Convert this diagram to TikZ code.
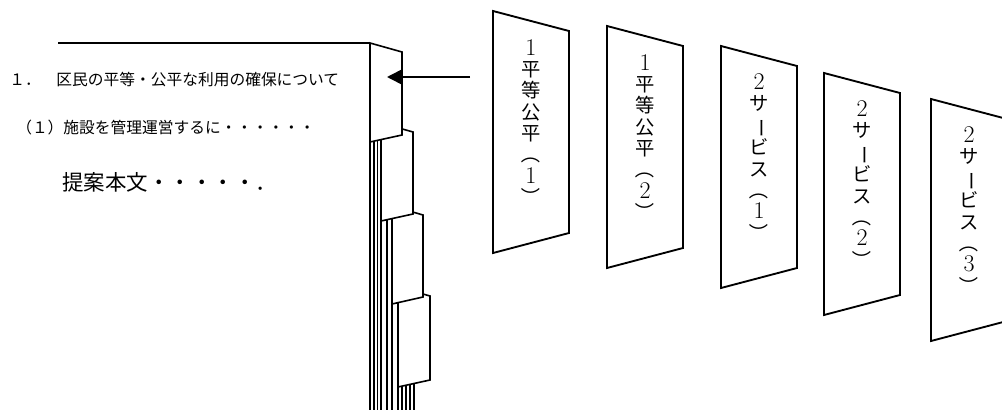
\documentclass[tikz,border=0pt]{standalone}
\usepackage{fontspec}
\usepackage{graphicx}
\newfontfamily\jp{Noto Sans CJK JP}
\usetikzlibrary{arrows.meta}

% vertical writing helpers
\newcommand\tatesuji[1]{{\rmfamily\fontsize{18}{16}\selectfont #1}}
\newcommand\tatebou{\rotatebox[origin=c]{-90}{ー}}
\newcommand\tatekakko[1]{\rotatebox[origin=c]{-90}{（}\\\tatesuji{#1}\\\rotatebox[origin=c]{-90}{）}}

\begin{document}
\begin{tikzpicture}[x=0.75pt, y=-0.75pt,
    sheet/.style={line width=1.2pt},
    tabsheet/.style={line width=1.2pt, fill=white, line join=miter},
    card/.style={line width=1.4pt, line join=miter},
    cardtext/.style={align=center, inner sep=0pt, font=\jp\fontsize{14.5}{16}\selectfont},
    bodytext/.style={anchor=west, inner sep=0pt, font=\jp\fontsize{11.8}{14}\selectfont}]
  \useasboundingbox (0,0) rectangle (1002,410);
  \clip (0,0) rectangle (1002,410);

  % Page text
  \node[bodytext] (midashi) at (9,80) {１．　区民の平等・公平な利用の確保について};
  \node[bodytext] (komidashi) at (16,128) {（１）施設を管理運営するに・・・・・・};
  \node[bodytext, font=\jp\fontsize{16.1}{18}\selectfont] (honbun) at (62,182) {提案本文・・・・・．};

  % Page top edge
  \draw[sheet, line width=1.4pt] (58,43) -- (370,43);

  % Page edges in the stack
  \foreach \x/\y in {370/43, 374/100, 377.5/100, 381/130, 387/180, 392/210, 398/290, 402/350, 406/350, 410/350, 414/350}
    \draw[sheet] (\x,\y) -- (\x,412);

  % Index tabs, back to front
  \draw[tabsheet] (398,287) -- (430,296) -- (430,380) -- (398,387) -- cycle;
  \draw[tabsheet] (392,206) -- (423,215) -- (423,297) -- (392,304) -- cycle;
  \draw[tabsheet] (381,123) -- (413,132) -- (413,214) -- (381,221) -- cycle;
  \draw[tabsheet] (370,43) -- (402,52) -- (402,135) -- (370,142) -- cycle;

  % Arrow to the first tab
  \coordinate (pfrom) at (470,77);
  \coordinate (pto) at (387,77);
  \draw[line width=1.2pt, -{Triangle[length=11pt, width=11pt]}] (pfrom) -- (pto);

  % Separator cards
  \foreach \x/\y/\t in {493/11/{\tatesuji{1}\\平\\等\\公\\平\\\tatekakko{1}},
                         607/26/{\tatesuji{1}\\平\\等\\公\\平\\\tatekakko{2}},
                         721/46/{\tatesuji{2}\\サ\\\tatebou\\ビ\\ス\\\tatekakko{1}},
                         824/73/{\tatesuji{2}\\サ\\\tatebou\\ビ\\ス\\\tatekakko{2}},
                         931/99/{\tatesuji{2}\\サ\\\tatebou\\ビ\\ス\\\tatekakko{3}}} {
    \draw[card] (\x,\y) -- ++(76,20) -- ++(0,202) -- ++(-76,20) -- cycle;
    \node[cardtext] (card\x) at (\x+38,\y+112) {\t};
  }
\end{tikzpicture}
\end{document}
